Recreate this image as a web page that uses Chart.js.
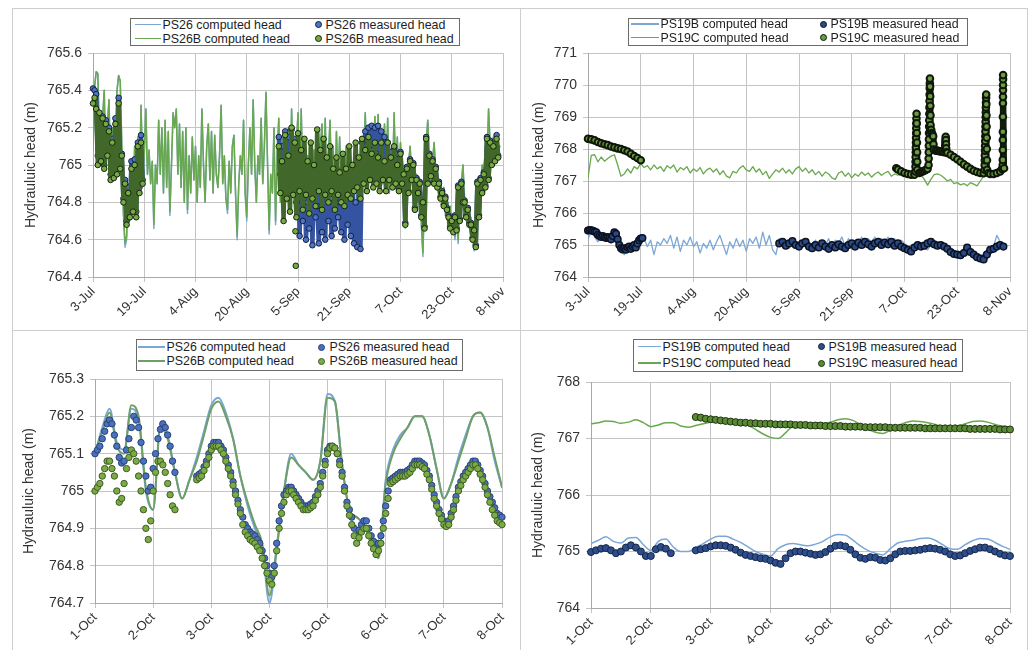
<!DOCTYPE html>
<html>
<head>
<meta charset="utf-8">
<title>Hydraulic head - PS26 / PS19</title>
<script src="https://cdn.jsdelivr.net/npm/chart.js@4.4.1/dist/chart.umd.min.js"></script>
<style>
  body { margin: 0; background: #fff; }
  #page { position: relative; width: 1032px; height: 650px; overflow: hidden; background: #fff; font-family: "Liberation Sans", Arial, sans-serif; }
  .rule { position: absolute; background: #cdcdcd; }
  canvas { position: absolute; }
  .legend { position: absolute; box-sizing: border-box; border: 1.5px solid #6b6b6b; background: #fff; font-size: 12.4px; color: #1e1e1e; }
  .legend .txt { position: absolute; height: 14px; line-height: 14px; white-space: nowrap; }
  .legend .sw { position: absolute; box-sizing: border-box; }
</style>
</head>
<body>
<div id="page">
  <div class="rule" style="left:12px;top:8px;width:1016px;height:1px"></div>
  <div class="rule" style="left:12px;top:8px;width:1px;height:642px"></div>
  <div class="rule" style="left:1027px;top:8px;width:1px;height:642px"></div>
  <div class="rule" style="left:520px;top:8px;width:1px;height:642px"></div>
  <div class="rule" style="left:12px;top:330px;width:1016px;height:1px"></div>
  <canvas id="ps26Season" width="506" height="320" style="left:13px;top:9px"></canvas>
  <canvas id="ps19Season" width="505" height="320" style="left:521px;top:9px"></canvas>
  <canvas id="ps26Week" width="506" height="319" style="left:13px;top:331px"></canvas>
  <canvas id="ps19Week" width="505" height="319" style="left:521px;top:331px"></canvas>
</div>
<script>
// tick labels
var seasonTicks = ['3-Jul', '19-Jul', '4-Aug', '20-Aug', '5-Sep', '21-Sep', '7-Oct', '23-Oct', '8-Nov'];
var weekTicks = ['1-Oct', '2-Oct', '3-Oct', '4-Oct', '5-Oct', '6-Oct', '7-Oct', '8-Oct'];

// ---- PS26 / PS26B, 3 Jul - 8 Nov (days from 3 Jul, every half day) ----
var ps26bComputedSeason = [
  765.08, 765.42, 765.50, 765.49, 765.15, 765.02, 765.25, 765.40, 765.00, 765.22, 765.35, 764.95, 765.20, 764.92, 765.15, 765.40,
  765.48, 765.45, 765.10, 764.75, 764.58, 764.62, 764.90, 764.72, 765.00, 764.78, 765.10, 764.80, 765.15, 764.88, 765.32, 764.95,
  765.05, 765.30, 764.95, 765.08, 764.90, 765.02, 764.68, 765.00, 764.90, 765.24, 764.95, 765.20, 764.85, 765.24, 764.88, 765.18,
  764.75, 765.00, 765.28, 765.20, 765.30, 764.95, 765.22, 764.88, 765.18, 764.80, 765.20, 764.76, 765.05, 764.85, 765.15, 764.92,
  765.10, 764.80, 765.05, 764.88, 765.30, 765.00, 764.80, 765.10, 765.22, 764.92, 765.18, 764.85, 765.16, 764.95, 764.88, 765.05,
  765.32, 764.90, 765.05, 764.82, 764.76, 765.02, 764.85, 765.10, 765.16, 764.85, 764.62, 764.90, 765.05, 764.95, 765.24, 764.85,
  764.72, 765.00, 765.20, 764.95, 765.35, 765.00, 764.80, 765.05, 764.95, 765.25, 764.90, 765.10, 765.39, 765.00, 764.65, 764.95,
  764.85, 765.20, 764.70, 765.05, 765.25, 764.80, 765.15, 764.75, 765.10, 764.85, 765.20, 764.80, 765.30, 764.95, 764.75, 765.10,
  765.28, 764.85, 765.30, 764.90, 765.15, 764.80, 765.05, 764.85, 765.12, 764.78, 765.08, 764.90, 765.18, 764.80, 765.10, 765.22,
  764.90, 765.25, 764.82, 765.05, 765.24, 764.88, 765.10, 764.80, 765.18, 764.90, 765.15, 764.85, 765.02, 764.80, 765.10, 764.88,
  765.05, 764.78, 765.00, 764.75, 765.02, 764.80, 764.95, 764.85, 765.10, 765.00, 765.28, 764.95, 765.15, 764.92, 765.18, 765.00,
  765.26, 764.95, 765.27, 764.98, 765.15, 764.90, 765.22, 764.95, 765.25, 764.85, 765.05, 764.90, 765.28, 764.95, 765.15, 764.88,
  765.12, 764.95, 764.80, 764.68, 764.85, 765.00, 765.10, 764.95, 765.00, 764.85, 764.95, 764.80, 764.90, 764.70, 764.53, 764.85,
  765.10, 765.24, 765.05, 764.95, 765.02, 765.12, 764.95, 764.90, 764.85, 764.92, 764.80, 764.88, 764.75, 764.80, 764.70, 764.78,
  764.68, 764.72, 764.62, 764.72, 764.60, 764.80, 764.90, 765.00, 764.82, 764.72, 764.78, 764.68, 764.72, 764.62, 764.56, 764.70,
  764.80, 764.92, 764.85, 765.00, 764.95, 765.10, 765.02, 765.30, 765.10, 765.05, 765.15, 765.02, 765.10, 765.08, 765.10
];
var ps26ComputedSeason = [
  765.08, 765.42, 765.50, 765.49, 765.15, 765.02, 765.25, 765.40, 765.00, 765.22, 765.35, 764.95, 765.20, 764.92, 765.15, 765.40,
  765.48, 765.45, 765.10, 764.73, 764.56, 764.60, 764.90, 764.70, 765.00, 764.76, 765.10, 764.80, 765.15, 764.88, 765.32, 764.95,
  765.05, 765.30, 764.95, 765.08, 764.90, 765.02, 764.66, 765.00, 764.90, 765.24, 764.95, 765.20, 764.85, 765.24, 764.88, 765.18,
  764.73, 765.00, 765.28, 765.20, 765.30, 764.95, 765.22, 764.88, 765.18, 764.80, 765.20, 764.74, 765.05, 764.85, 765.15, 764.92,
  765.10, 764.80, 765.05, 764.88, 765.30, 765.00, 764.80, 765.10, 765.22, 764.92, 765.18, 764.85, 765.16, 764.95, 764.88, 765.05,
  765.32, 764.90, 765.05, 764.82, 764.74, 765.02, 764.85, 765.10, 765.16, 764.85, 764.60, 764.90, 765.05, 764.95, 765.24, 764.85,
  764.70, 765.00, 765.20, 764.95, 765.35, 765.00, 764.80, 765.05, 764.95, 765.25, 764.90, 765.10, 765.39, 765.00, 764.63, 764.95,
  764.85, 765.20, 764.68, 765.05, 765.25, 764.80, 765.15, 764.73, 765.10, 764.85, 765.20, 764.80, 765.30, 764.95, 764.73, 765.10,
  765.28, 764.85, 765.30, 764.90, 765.15, 764.80, 765.05, 764.85, 765.12, 764.76, 765.08, 764.90, 765.18, 764.80, 765.10, 765.22,
  764.90, 765.25, 764.82, 765.05, 765.24, 764.88, 765.10, 764.80, 765.18, 764.90, 765.15, 764.85, 765.02, 764.80, 765.10, 764.88,
  765.05, 764.76, 765.00, 764.73, 765.02, 764.80, 764.95, 764.85, 765.10, 765.00, 765.28, 764.95, 765.15, 764.92, 765.18, 765.00,
  765.26, 764.95, 765.27, 764.98, 765.15, 764.90, 765.22, 764.95, 765.25, 764.85, 765.05, 764.90, 765.28, 764.95, 765.15, 764.88,
  765.12, 764.95, 764.80, 764.66, 764.85, 765.00, 765.10, 764.95, 765.00, 764.85, 764.95, 764.80, 764.90, 764.68, 764.51, 764.85,
  765.10, 765.24, 765.05, 764.95, 765.02, 765.12, 764.95, 764.90, 764.85, 764.92, 764.80, 764.88, 764.73, 764.80, 764.68, 764.76,
  764.66, 764.70, 764.60, 764.70, 764.58, 764.80, 764.90, 765.00, 764.82, 764.70, 764.76, 764.66, 764.70, 764.60, 764.54, 764.68,
  764.80, 764.92, 764.85, 765.00, 764.95, 765.10, 765.02, 765.30, 765.10, 765.05, 765.15, 765.02, 765.10, 765.08, 765.10
];
// measured: 3-18 Jul and 30 Aug - 6 Nov, daily high / low
var ps26MeasJul = [
  765.41, 765.40, 765.38, 765.05, 765.27, 765.05, 765.26, 765.00, 765.24, 765.06, 765.20, 764.95, 765.14, 764.95, 765.25, 764.98,
  765.36, 765.00, 765.06, 764.82, 764.92, 764.70, 764.88, 764.74, 765.02, 764.78, 765.03, 764.75, 765.12, 764.88, 765.16, 764.92
];
var ps26bMeasJul = [
  765.33, 765.36, 765.30, 765.00, 765.28, 765.02, 765.25, 764.98, 765.22, 765.05, 765.18, 764.92, 765.12, 764.93, 765.22, 764.95,
  765.33, 764.98, 765.05, 764.80, 764.90, 764.68, 764.85, 764.72, 764.98, 764.75, 765.00, 764.72, 765.10, 764.85, 765.12, 764.90
];
var ps26MeasAutumn = [
  765.15, 764.95, 765.10, 764.85, 765.18, 764.90, 765.15, 764.88, 765.19, 764.95, 765.14, 764.80, 765.05, 764.62, 764.92, 764.70,
  764.98, 764.60, 764.80, 764.66, 764.88, 764.57, 764.95, 764.72, 764.78, 764.58, 764.90, 764.64, 764.84, 764.60, 764.96, 764.70,
  764.82, 764.62, 764.92, 764.66, 764.98, 764.72, 764.80, 764.64, 764.86, 764.60, 764.95, 764.68, 764.85, 764.62, 764.90, 764.58,
  764.80, 764.56, 764.88, 764.55, 765.12, 765.00, 765.18, 765.05, 765.20, 765.05, 765.21, 765.08, 765.20, 765.06, 765.21, 765.05,
  765.18, 765.02, 765.15, 765.00, 765.12, 764.98, 765.07, 764.91, 765.09, 764.89, 765.06, 764.87, 765.07, 764.91, 764.96, 764.69,
  764.99, 764.86, 765.03, 764.93, 765.01, 764.77, 764.93, 764.86, 764.91, 764.73, 764.81, 764.67, 765.15, 764.91, 765.06, 764.95,
  765.03, 764.91, 764.99, 764.89, 764.91, 764.83, 764.86, 764.79, 764.83, 764.77, 764.73, 764.67, 764.71, 764.65, 764.73, 764.66,
  764.89, 764.71, 764.91, 764.81, 764.81, 764.73, 764.77, 764.69, 764.69, 764.61, 764.66, 764.57, 764.91, 764.73, 764.93, 764.86,
  764.96, 764.89, 765.15, 764.93, 765.13, 765.01, 765.11, 765.03, 765.16, 765.05
];
var ps26bMeasAutumn = [
  765.10, 764.85, 765.02, 764.70, 765.16, 764.82, 765.05, 764.75, 765.20, 764.84, 765.12, 764.72, 765.17, 764.86, 765.08, 764.76,
  765.14, 764.84, 765.02, 764.74, 765.12, 764.82, 765.00, 764.78, 765.19, 764.86, 765.08, 764.76, 765.14, 764.84, 765.04, 764.80,
  765.10, 764.86, 764.98, 764.76, 765.04, 764.84, 764.96, 764.80, 765.06, 764.78, 764.98, 764.84, 765.10, 764.82, 765.00, 764.86,
  765.12, 764.88, 765.04, 764.82, 765.14, 764.90, 765.08, 764.86, 765.15, 764.92, 765.06, 764.88, 765.12, 764.90, 765.04, 764.86,
  765.12, 764.92, 765.02, 764.86, 765.12, 764.92, 765.04, 764.88, 765.10, 764.90, 765.00, 764.86, 765.06, 764.90, 764.95, 764.68,
  764.98, 764.85, 765.02, 764.92, 765.00, 764.76, 764.92, 764.85, 764.90, 764.72, 764.80, 764.66, 765.14, 764.90, 765.05, 764.94,
  765.02, 764.90, 764.98, 764.88, 764.90, 764.82, 764.85, 764.78, 764.82, 764.76, 764.72, 764.66, 764.70, 764.64, 764.72, 764.65,
  764.88, 764.70, 764.90, 764.80, 764.80, 764.72, 764.76, 764.68, 764.68, 764.60, 764.65, 764.56, 764.90, 764.72, 764.92, 764.85,
  764.95, 764.88, 765.14, 764.92, 765.12, 765.00, 765.10, 765.02, 765.14, 765.04
];
var ps26bStrayDays = [63.2, 63.3];
var ps26bStrayHead = [764.645, 764.46];

// ---- PS19B / PS19C, 3 Jul - 8 Nov (daily) ----
var ps19bComputedSeason = [
  765.20, 765.40, 765.25, 765.10, 765.30, 765.15, 765.20, 765.05, 765.25, 765.10, 764.80, 764.70, 764.85, 765.00, 764.90, 765.10, 765.00,
  765.20, 764.95, 765.15, 764.70, 765.10, 765.00, 765.20, 765.05, 765.30, 764.90, 765.25, 764.80, 765.15, 765.00, 765.25, 764.95,
  765.10, 764.75, 765.05, 764.90, 765.15, 764.85, 765.10, 765.30, 765.00, 764.70, 765.10, 764.90, 765.20, 764.95, 765.15, 764.80,
  765.20, 765.05, 765.25, 764.90, 765.40, 765.00, 765.30, 764.85, 764.70, 765.20, 765.00, 765.10, 764.90, 765.15, 764.95, 765.10,
  765.00, 765.15, 764.90, 765.05, 765.15, 764.95, 765.10, 765.00, 765.20, 764.90, 765.15, 765.05, 765.25, 764.95, 765.20, 765.00,
  765.15, 765.05, 765.25, 764.95, 765.20, 765.10, 765.25, 765.00, 765.20, 765.05, 765.25, 765.10, 765.20, 765.00, 765.15, 765.05,
  764.95, 765.00, 764.90, 765.05, 765.00, 764.90, 764.85, 765.00, 765.10, 765.05, 765.00, 764.95, 764.90, 764.80, 764.75, 764.72,
  764.70, 764.75, 764.70, 764.72, 764.68, 764.65, 764.60, 764.75, 764.85, 764.90, 764.95, 765.30, 765.10, 765.05
];
var ps19cComputedSeason = [
  767.10, 767.80, 767.82, 767.60, 767.75, 767.62, 767.70, 767.78, 767.82, 767.50, 767.15, 767.22, 767.38, 767.25, 767.45, 767.38, 767.55,
  767.42, 767.48, 767.35, 767.50, 767.38, 767.45, 767.30, 767.48, 767.40, 767.50, 767.28, 767.42, 767.35, 767.45, 767.25, 767.38,
  767.30, 767.42, 767.22, 767.35, 767.40, 767.28, 767.38, 767.20, 767.32, 767.15, 767.10, 767.30, 767.25, 767.40, 767.48, 767.35,
  767.30, 767.45, 767.28, 767.38, 767.20, 767.30, 767.08, 767.22, 767.35, 767.28, 767.40, 767.25, 767.35, 767.22, 767.38, 767.45,
  767.30, 767.40, 767.25, 767.35, 767.20, 767.30, 767.15, 767.28, 767.22, 767.10, 767.05, 767.25, 767.30, 767.15, 767.25, 767.10,
  767.22, 767.15, 767.28, 767.18, 767.25, 767.12, 767.22, 767.28, 767.18, 767.25, 767.30, 767.15, 767.22, 767.18, 767.25, 767.20,
  767.18, 767.25, 767.20, 767.15, 767.20, 767.05, 766.87, 767.05, 767.20, 767.22, 767.18, 767.10, 767.00, 767.05, 766.92, 766.95,
  766.88, 766.92, 766.85, 766.95, 766.90, 766.85, 767.00, 767.15, 767.20, 767.25, 767.20, 767.30, 767.25, 767.30
];
// PS19B measured: 3-19 Jul every half day, 30 Aug - 6 Nov daily
var ps19bMeasJul = [
  765.45, 765.47, 765.46, 765.44, 765.42, 765.40, 765.32, 765.28, 765.25, 765.28, 765.24, 765.22, 765.25, 765.22, 765.18, 765.28, 765.40,
  765.35, 765.18, 765.00, 764.90, 764.86, 764.90, 764.85, 764.92, 764.95, 764.88, 764.95, 765.00, 764.92, 765.05, 765.15, 765.20, 765.22
];
var ps19bMeasAutumn = [
  765.05, 765.10, 764.98, 765.05, 765.12, 765.00, 764.95, 765.05, 765.10, 764.95, 764.90, 765.00, 764.92, 765.05, 764.95, 764.88,
  765.00, 764.92, 765.02, 764.95, 764.90, 765.00, 765.05, 764.95, 765.08, 765.00, 765.10, 765.02, 764.95, 765.05, 765.10, 765.00,
  765.08, 765.02, 765.10, 764.98, 765.05, 764.95, 764.90, 764.85, 764.80, 764.92, 765.00, 764.95, 764.98, 765.05, 765.10, 765.02,
  764.98, 765.00, 764.95, 764.88, 764.78, 764.72, 764.70, 764.68, 764.75, 764.92, 764.78, 764.70, 764.62, 764.58, 764.55, 764.70,
  764.85, 764.88, 764.95, 765.00, 764.95
];
// PS19C measured: 3-19 Jul daily, then the October logger record with its spikes
var ps19cMeasJul = [
  768.32, 768.30, 768.27, 768.22, 768.18, 768.15, 768.12, 768.08, 768.05, 768.02, 768.00, 767.96, 767.92, 767.85, 767.78, 767.72, 767.65
];
var ps19cMeasOctDays = [
  93.5, 94, 95, 96, 97, 98, 99,
  99.30, 99.33, 99.36, 99.39, 99.42, 99.45, 99.48, 99.51, 99.54, 99.57, 99.60, 99.63, 99.66, 99.70, 99.74, 99.78, 99.82, 99.86, 99.90,
  100.5, 101, 101.5, 102, 102.5, 103,
  103.30, 103.33, 103.36, 103.39, 103.42, 103.45, 103.48, 103.51, 103.54, 103.57, 103.60, 103.63, 103.66, 103.69, 103.72,
  103.76, 103.80, 103.84, 103.88, 103.92, 103.96, 104.1, 104.3, 104.5, 104.7, 104.8, 104.9,
  105.5, 106, 106.5, 107, 107.5, 108,
  108.30, 108.35, 108.40, 108.45, 108.50, 108.55, 108.60, 108.65, 108.70,
  109, 110, 111, 112, 113, 114, 115, 116, 117, 118, 119, 120,
  120.30, 120.33, 120.36, 120.39, 120.42, 120.45, 120.48, 120.51, 120.54, 120.57, 120.60, 120.63, 120.66, 120.69, 120.72, 120.75, 120.78,
  120.82, 120.86, 120.90, 120.94, 120.98, 121.02, 121.06,
  121.5, 122, 123, 124, 125, 125.6,
  125.80, 125.81, 125.82, 125.83, 125.84, 125.85, 125.86, 125.87, 125.88, 125.89, 125.90, 125.91,
  126.2
];
var ps19cMeasOctHead = [
  767.40, 767.36, 767.30, 767.25, 767.22, 767.20, 767.20,
  767.30, 767.45, 767.60, 767.75, 767.90, 768.05, 768.20, 768.35, 768.50, 768.65, 768.80, 768.95, 769.10, 768.80, 768.50, 768.20, 767.90, 767.60, 767.35,
  767.25, 767.28, 767.30, 767.32, 767.35, 767.38,
  767.50, 767.70, 767.90, 768.10, 768.30, 768.50, 768.70, 768.90, 769.10, 769.30, 769.50, 769.70, 769.90, 770.05, 770.20,
  769.95, 769.65, 769.35, 769.05, 768.75, 768.55, 768.60, 768.50, 768.45, 768.40, 768.15, 767.98,
  767.95, 767.95, 767.93, 767.92, 767.92, 767.90,
  768.00, 768.10, 768.20, 768.30, 768.38, 768.28, 768.15, 768.02, 767.90,
  767.88, 767.82, 767.75, 767.68, 767.60, 767.52, 767.45, 767.38, 767.32, 767.28, 767.25, 767.24,
  767.35, 767.50, 767.65, 767.80, 767.95, 768.10, 768.25, 768.40, 768.55, 768.70, 768.85, 769.00, 769.15, 769.30, 769.45, 769.60, 769.70,
  769.40, 769.05, 768.70, 768.35, 768.00, 767.65, 767.35,
  767.25, 767.22, 767.22, 767.25, 767.30, 767.38,
  767.50, 767.66, 767.97, 768.28, 768.54, 769.01, 769.43, 769.63, 769.84, 770.00, 770.18, 770.31,
  767.40
];

// ---- 1-8 Oct close-up (days from 1 Oct) ----
// computed heads every 3 hours
var ps26ComputedWeek = [
  765.10, 765.17, 765.22, 765.13, 765.11, 765.22, 765.19, 765.00, 764.95, 765.18, 765.15, 765.05, 764.98, 765.03, 765.09, 765.16,
  765.23, 765.25, 765.21, 765.14, 765.04, 764.96, 764.90, 764.85, 764.70, 764.84, 765.00, 765.10, 765.07, 765.05, 765.03, 765.08,
  765.26, 765.24, 765.07, 764.95, 764.93, 764.91, 764.86, 764.82, 765.03, 765.11, 765.15, 765.17, 765.20, 765.20, 765.15, 765.06,
  764.98, 765.02, 765.09, 765.15, 765.20, 765.21, 765.17, 765.08, 765.01
];
var ps26bComputedWeek = [
  765.10, 765.16, 765.21, 765.12, 765.10, 765.23, 765.20, 765.01, 764.95, 765.17, 765.14, 765.05, 764.98, 765.03, 765.08, 765.15,
  765.22, 765.24, 765.20, 765.14, 765.04, 764.97, 764.91, 764.86, 764.72, 764.85, 765.00, 765.09, 765.07, 765.05, 765.03, 765.08,
  765.25, 765.24, 765.07, 764.95, 764.93, 764.91, 764.86, 764.82, 765.02, 765.10, 765.14, 765.17, 765.20, 765.20, 765.15, 765.06,
  764.98, 765.02, 765.08, 765.14, 765.20, 765.21, 765.17, 765.09, 765.01
];
var ps19bComputedWeek = [
  765.14, 765.20, 765.26, 765.18, 765.15, 765.24, 765.25, 765.12, 765.02, 765.18, 765.22, 765.08, 765.00, 765.00, 765.07, 765.14,
  765.22, 765.27, 765.27, 765.22, 765.16, 765.08, 765.00, 764.95, 764.92, 765.05, 765.12, 765.14, 765.12, 765.10, 765.13, 765.18,
  765.26, 765.30, 765.29, 765.20, 765.10, 765.02, 764.97, 764.94, 765.05, 765.15, 765.18, 765.20, 765.23, 765.24, 765.20, 765.12,
  765.05, 765.04, 765.12, 765.19, 765.23, 765.22, 765.16, 765.09, 765.04
];
var ps19cComputedWeek = [
  767.26, 767.28, 767.31, 767.30, 767.27, 767.29, 767.33, 767.28, 767.21, 767.24, 767.28, 767.28, 767.22, 767.20, 767.23, 767.26,
  767.29, 767.31, 767.32, 767.31, 767.29, 767.24, 767.16, 767.08, 767.02, 767.00, 767.10, 767.22, 767.24, 767.24, 767.25, 767.27,
  767.29, 767.33, 767.35, 767.32, 767.25, 767.17, 767.11, 767.09, 767.15, 767.22, 767.28, 767.31, 767.30, 767.28, 767.25, 767.21,
  767.19, 767.21, 767.26, 767.30, 767.31, 767.29, 767.25, 767.22, 767.20
];
// PS26 / PS26B measured hourly: 1 Oct 00:00 - 2 Oct 09:00, 2 Oct 18:00 - 8 Oct 00:00
var ps26MeasWeekA = [
  765.10, 765.11, 765.12, 765.14, 765.16, 765.18, 765.19, 765.18, 765.15, 765.12, 765.09, 765.075, 765.08, 765.11, 765.14, 765.17,
  765.20, 765.19, 765.17, 765.13, 765.08, 765.04, 765.00, 765.01, 765.06, 765.10, 765.14, 765.165, 765.18, 765.17, 765.15, 765.12,
  765.08, 765.05
];
var ps26bMeasWeekA = [
  765.00, 765.01, 765.02, 765.04, 765.06, 765.08, 765.08, 765.06, 765.04, 765.00, 764.97, 764.98, 765.02, 765.06, 765.09, 765.11,
  765.10, 765.08, 765.04, 765.00, 764.95, 764.90, 764.87, 764.92, 765.00, 765.05, 765.08, 765.08, 765.07, 765.05, 765.02, 764.99,
  764.96, 764.95
];
var ps26MeasWeekB = [
  765.04, 765.045, 765.05, 765.065, 765.08, 765.10, 765.12, 765.13, 765.13, 765.13, 765.12, 765.11, 765.09, 765.07, 765.05, 765.025,
  765.00, 764.975, 764.95, 764.93, 764.91, 764.90, 764.89, 764.885, 764.88, 764.87, 764.86, 764.84, 764.82, 764.80, 764.78, 764.77,
  764.80, 764.86, 764.92, 764.96, 764.99, 765.00, 765.01, 765.01, 765.00, 764.99, 764.98, 764.97, 764.96, 764.96, 764.96, 764.965,
  764.97, 764.985, 765.00, 765.02, 765.05, 765.08, 765.11, 765.12, 765.12, 765.115, 765.10, 765.08, 765.05, 765.01, 764.97, 764.95,
  764.93, 764.90, 764.88, 764.895, 764.91, 764.92, 764.92, 764.90, 764.88, 764.865, 764.85, 764.86, 764.88, 764.92, 764.96, 765.00,
  765.03, 765.035, 765.04, 765.045, 765.05, 765.05, 765.05, 765.055, 765.06, 765.07, 765.08, 765.08, 765.08, 765.075, 765.07, 765.055,
  765.04, 765.015, 764.99, 764.97, 764.95, 764.935, 764.92, 764.915, 764.92, 764.94, 764.96, 764.985, 765.01, 765.025, 765.04, 765.05,
  765.06, 765.07, 765.08, 765.08, 765.07, 765.055, 765.04, 765.02, 765.00, 764.985, 764.97, 764.955, 764.94, 764.935, 764.93
];
var ps26bMeasWeekB = [
  765.03, 765.035, 765.04, 765.055, 765.07, 765.09, 765.11, 765.12, 765.12, 765.12, 765.11, 765.10, 765.08, 765.06, 765.04, 765.015,
  764.99, 764.965, 764.94, 764.91, 764.89, 764.88, 764.87, 764.865, 764.86, 764.85, 764.84, 764.82, 764.80, 764.78, 764.76, 764.75,
  764.78, 764.84, 764.90, 764.94, 764.97, 764.99, 765.00, 765.00, 764.99, 764.98, 764.97, 764.96, 764.95, 764.95, 764.95, 764.955,
  764.96, 764.975, 764.99, 765.01, 765.04, 765.07, 765.10, 765.115, 765.12, 765.115, 765.10, 765.07, 765.04, 765.00, 764.96, 764.935,
  764.91, 764.88, 764.86, 764.875, 764.89, 764.90, 764.90, 764.88, 764.86, 764.845, 764.83, 764.84, 764.86, 764.90, 764.94, 764.98,
  765.02, 765.025, 765.03, 765.035, 765.04, 765.04, 765.04, 765.045, 765.05, 765.06, 765.07, 765.07, 765.07, 765.065, 765.06, 765.045,
  765.03, 765.005, 764.98, 764.96, 764.94, 764.925, 764.91, 764.905, 764.91, 764.93, 764.95, 764.975, 765.00, 765.015, 765.03, 765.04,
  765.05, 765.06, 765.07, 765.07, 765.06, 765.045, 765.03, 765.01, 764.99, 764.97, 764.95, 764.935, 764.92, 764.915, 764.91
];
// PS19B / PS19C measured every 2 hours
var ps19bMeasWeekA = [
  764.99, 765.02, 765.05, 765.06, 765.02, 764.97, 765.00, 765.07, 765.11, 765.07, 765.00, 764.92, 764.92, 765.04, 765.08, 765.05, 764.97
];
var ps19bMeasWeekB = [
  765.02, 765.04, 765.06, 765.09, 765.11, 765.11, 765.10, 765.07, 765.03, 764.98, 764.94, 764.92, 764.90, 764.88, 764.87, 764.84,
  764.80, 764.78, 764.88, 764.97, 765.00, 765.00, 764.98, 764.96, 764.94, 764.95, 764.99, 765.05, 765.10, 765.11, 765.09, 765.03,
  764.95, 764.89, 764.87, 764.90, 764.89, 764.85, 764.84, 764.88, 764.95, 765.00, 765.01, 765.01, 765.02, 765.03, 765.05, 765.06,
  765.05, 765.03, 765.00, 764.95, 764.92, 764.93, 764.97, 765.01, 765.04, 765.07, 765.07, 765.04, 765.00, 764.96, 764.93, 764.92
];
var ps19cMeasWeekB = [
  767.38, 767.37, 767.35, 767.34, 767.33, 767.32, 767.31, 767.30, 767.29, 767.28, 767.28, 767.27, 767.27, 767.26, 767.26, 767.26,
  767.25, 767.25, 767.25, 767.25, 767.24, 767.24, 767.24, 767.23, 767.23, 767.23, 767.22, 767.22, 767.22, 767.22, 767.21, 767.21,
  767.21, 767.21, 767.20, 767.20, 767.20, 767.20, 767.20, 767.19, 767.19, 767.19, 767.19, 767.19, 767.19, 767.19, 767.18, 767.18,
  767.18, 767.18, 767.18, 767.18, 767.18, 767.18, 767.18, 767.17, 767.17, 767.17, 767.17, 767.17, 767.17, 767.16, 767.16, 767.16
];

var FONT = 'Liberation Sans, Arial, sans-serif';
var BLUE_LINE = '#7ba7d7';
var GREEN_LINE = '#6aa84f';
var HOUR = 1 / 24;

function steps(start, step, values) {
  return values.map(function (v, i) { return { x: start + i * step, y: v }; });
}
function pairs(days, values) {
  return days.map(function (d, i) { return { x: d, y: values[i] }; });
}
// join runs with a null point so the line breaks between them
function joinRuns() {
  var out = [];
  Array.prototype.forEach.call(arguments, function (run, k) {
    if (k) out.push({ x: run[0].x, y: null });
    out.push.apply(out, run);
  });
  return out;
}

function computed(label, data, color, width, order, smooth) {
  return {
    label: label, data: data, borderColor: color, backgroundColor: color, borderWidth: width,
    pointRadius: 0, order: order, tension: 0,
    cubicInterpolationMode: smooth ? 'monotone' : 'default'
  };
}
function measured(label, data, fill, edge, radius, edgeWidth, order, extra) {
  return Object.assign({
    label: label, data: data, showLine: false, pointRadius: radius,
    pointBackgroundColor: fill, pointBorderColor: edge, pointBorderWidth: edgeWidth,
    borderColor: edge, backgroundColor: fill, order: order, clip: false
  }, extra || {});
}

function headOptions(o) {
  var xStep = o.xStep;
  return {
    responsive: false,
    animation: false,
    events: [],
    layout: { padding: { left: 0, top: o.padTop, right: o.padRight, bottom: 0 } },
    plugins: { legend: { display: false }, tooltip: { enabled: false } },
    elements: { line: { borderJoinStyle: 'round', borderCapStyle: 'round' } },
    scales: {
      x: {
        type: 'linear', min: 0, max: (o.xLabels.length - 1) * xStep,
        ticks: {
          stepSize: xStep, autoSkip: false, minRotation: 45, maxRotation: 45, padding: 2,
          color: '#333', font: { family: FONT, size: 13 },
          callback: function (v) { return o.xLabels[Math.round(v / xStep)]; }
        },
        grid: { color: '#c4c4c4', tickLength: 5 },
        border: { color: '#a8a8a8' },
        afterFit: function (s) { s.height = o.xHeight; }
      },
      y: {
        min: o.yMin, max: o.yMax,
        ticks: {
          stepSize: o.yStep, padding: 6, color: '#333', font: { family: FONT, size: 14 },
          callback: function (v) { return String(Number(v.toFixed(2))); }
        },
        grid: { color: '#c4c4c4', tickLength: 5 },
        border: { color: '#a8a8a8' },
        title: {
          display: true, text: 'Hydrauluic head (m)', color: '#333',
          font: { family: FONT, size: 14 }, padding: { top: o.titlePad, bottom: 0 }
        },
        afterFit: function (s) { s.width = o.yWidth; }
      }
    }
  };
}

// boxed two-column legend drawn as html over the canvas
function drawLegend(chart, box) {
  var page = document.getElementById('page');
  var el = document.createElement('div');
  var b = 1.5;
  el.className = 'legend';
  el.style.left = box.left + 'px';
  el.style.top = box.top + 'px';
  el.style.width = box.width + 'px';
  el.style.height = box.height + 'px';
  chart.data.datasets.forEach(function (ds, i) {
    var col = i % 2, row = Math.floor(i / 2);
    var cy = box.rows[row] - box.top - b;
    var sw = document.createElement('div');
    sw.className = 'sw';
    if (ds.pointRadius === 0) {
      sw.style.left = (box.lineX - box.left - b) + 'px';
      sw.style.top = (cy - 1) + 'px';
      sw.style.width = box.lineW + 'px';
      sw.style.height = '1.6px';
      sw.style.background = ds.borderColor;
    } else {
      sw.style.left = (box.dotX - 3.5 - box.left - b) + 'px';
      sw.style.top = (cy - 3.5) + 'px';
      sw.style.width = '7px';
      sw.style.height = '7px';
      sw.style.borderRadius = '50%';
      sw.style.background = ds.pointBackgroundColor;
      sw.style.border = '1px solid ' + ds.pointBorderColor;
    }
    var txt = document.createElement('div');
    txt.className = 'txt';
    txt.textContent = ds.label;
    txt.style.left = ((col ? box.text2 : box.text1) - box.left - b) + 'px';
    txt.style.top = (cy - 7) + 'px';
    el.appendChild(sw);
    el.appendChild(txt);
  });
  page.appendChild(el);
}

// PS26 season: measured logs are dense daily swings, drawn as a heavy trace with the readings on it
var ps26Season = new Chart(document.getElementById('ps26Season'), {
  type: 'line',
  data: {
    datasets: [
      computed('PS26 computed head', steps(0, 0.5, ps26ComputedSeason), BLUE_LINE, 1.5, 3),
      measured('PS26 measured head', joinRuns(steps(0, 0.5, ps26MeasJul), steps(58, 0.5, ps26MeasAutumn)),
        '#4d74c4', '#151f3f', 2.8, 1, 1, { showLine: true, borderColor: '#3453a0', borderWidth: 4.5 }),
      computed('PS26B computed head', steps(0, 0.5, ps26bComputedSeason), GREEN_LINE, 1.5, 2),
      measured('PS26B measured head',
        joinRuns(steps(0, 0.5, ps26bMeasJul), steps(58, 0.5, ps26bMeasAutumn),
          pairs(ps26bStrayDays.slice(0, 1), ps26bStrayHead.slice(0, 1)), pairs(ps26bStrayDays.slice(1), ps26bStrayHead.slice(1))),
        '#76aa43', '#17210f', 2.8, 1, 0, { showLine: true, borderColor: '#41682a', borderWidth: 4.5 })
    ]
  },
  options: headOptions({ xLabels: seasonTicks, xStep: 16, yMin: 764.4, yMax: 765.6, yStep: 0.2,
    padTop: 44, padRight: 16, xHeight: 52, yWidth: 80, titlePad: 10 })
});

// PS19 season
var ps19Season = new Chart(document.getElementById('ps19Season'), {
  type: 'line',
  data: {
    datasets: [
      computed('PS19B computed head', steps(0, 1, ps19bComputedSeason), BLUE_LINE, 1.3, 3),
      measured('PS19B measured head', joinRuns(steps(0, 0.5, ps19bMeasJul), steps(58, 1, ps19bMeasAutumn)),
        '#2a4a87', '#0b1220', 3.3, 1.5, 1, { showLine: true, borderColor: '#0e1626', borderWidth: 6 }),
      computed('PS19C computed head', steps(0, 1, ps19cComputedSeason), GREEN_LINE, 1.3, 2),
      measured('PS19C measured head', joinRuns(steps(0, 1, ps19cMeasJul), pairs(ps19cMeasOctDays, ps19cMeasOctHead)),
        '#6a9c42', '#0f160a', 3.3, 2, 0, { showLine: true, borderColor: '#131c0d', borderWidth: 6 })
    ]
  },
  options: headOptions({ xLabels: seasonTicks, xStep: 16, yMin: 764, yMax: 771, yStep: 1,
    padTop: 44, padRight: 16, xHeight: 52, yWidth: 67, titlePad: 10 })
});

// PS26 week
var ps26Week = new Chart(document.getElementById('ps26Week'), {
  type: 'line',
  data: {
    datasets: [
      computed('PS26 computed head', steps(0, 0.125, ps26ComputedWeek), BLUE_LINE, 2, 3, true),
      measured('PS26 measured head', steps(0, HOUR, ps26MeasWeekA).concat(steps(1.75, HOUR, ps26MeasWeekB)),
        '#4a70c0', '#2a4274', 3.2, 1, 1),
      computed('PS26B computed head', steps(0, 0.125, ps26bComputedWeek), '#6e9f67', 2, 2, true),
      measured('PS26B measured head', steps(0, HOUR, ps26bMeasWeekA).concat(steps(1.75, HOUR, ps26bMeasWeekB)),
        '#7aab45', '#3e5c25', 3.2, 1, 0)
    ]
  },
  options: headOptions({ xLabels: weekTicks, xStep: 1, yMin: 764.7, yMax: 765.3, yStep: 0.1,
    padTop: 48, padRight: 17, xHeight: 47, yWidth: 82, titlePad: 8 })
});

// PS19 week
var ps19Week = new Chart(document.getElementById('ps19Week'), {
  type: 'line',
  data: {
    datasets: [
      computed('PS19B computed head', steps(0, 0.125, ps19bComputedWeek), BLUE_LINE, 1.5, 3, true),
      measured('PS19B measured head', steps(0, 1 / 12, ps19bMeasWeekA).concat(steps(1.75, 1 / 12, ps19bMeasWeekB)),
        '#2d4d8c', '#152544', 3.5, 1, 1),
      computed('PS19C computed head', steps(0, 0.125, ps19cComputedWeek), GREEN_LINE, 1.5, 2, true),
      measured('PS19C measured head', steps(1.75, 1 / 12, ps19cMeasWeekB),
        '#5b8a35', '#1f3311', 3.5, 1, 0)
    ]
  },
  options: headOptions({ xLabels: weekTicks, xStep: 1, yMin: 764, yMax: 768, yStep: 1,
    padTop: 51, padRight: 16, xHeight: 42, yWidth: 70, titlePad: 9 })
});

drawLegend(ps26Season, { left: 130, top: 18, width: 330, height: 28, rows: [25, 39],
  lineX: 135, lineW: 26, text1: 163, dotX: 319, text2: 326 });
drawLegend(ps19Season, { left: 628, top: 18, width: 340, height: 28, rows: [24.5, 38],
  lineX: 631, lineW: 28, text1: 661, dotX: 824, text2: 831 });
drawLegend(ps26Week, { left: 136, top: 339, width: 327, height: 32, rows: [347.5, 361.5],
  lineX: 138, lineW: 27, text1: 167, dotX: 322, text2: 330 });
drawLegend(ps19Week, { left: 633, top: 339, width: 330, height: 33, rows: [347, 363.5],
  lineX: 638, lineW: 23, text1: 663, dotX: 822, text2: 829 });
</script>
</body>
</html>
